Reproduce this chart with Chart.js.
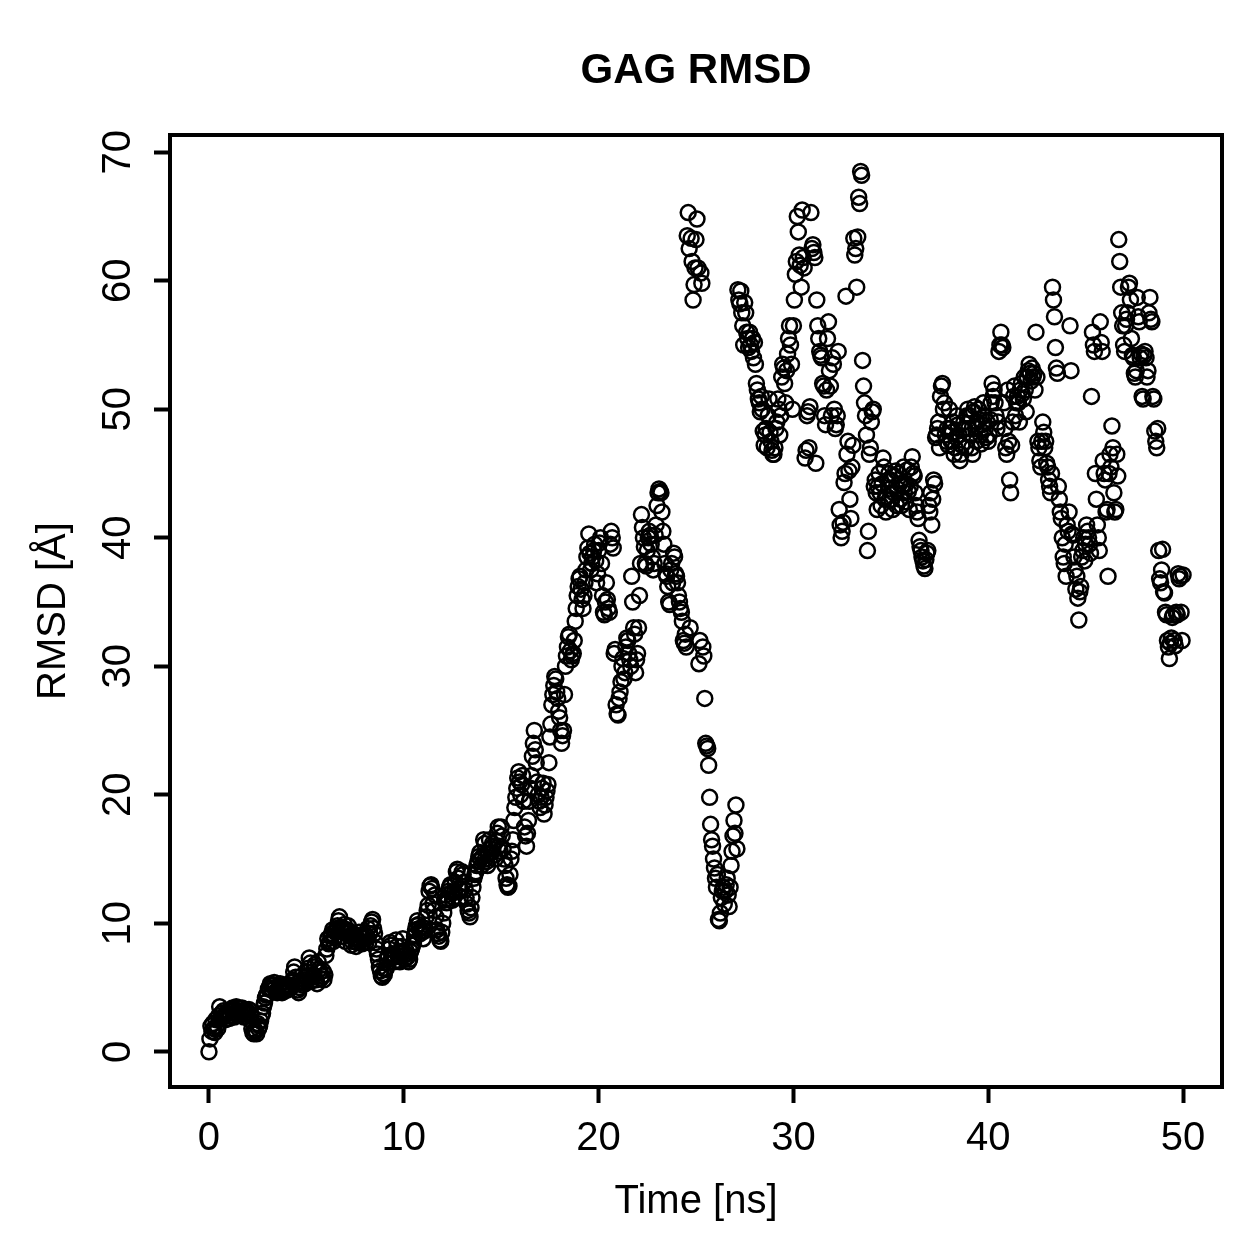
<!DOCTYPE html>
<html>
<head>
<meta charset="utf-8">
<script src="https://cdn.jsdelivr.net/npm/chart.js@4.4.1/dist/chart.umd.min.js"></script>
<style>
  html, body { margin: 0; padding: 0; background: #fff; }
  #wrap { width: 1259px; height: 1259px; }
</style>
</head>
<body>
<div id="wrap"><canvas id="mycanvas" width="1259" height="1259"></canvas></div>
<script>
// one frame every 0.05 ns
var frameStep = 0.05;

// GAG RMSD [A], one row per ns (20 frames)
var rmsd = [
  0.0, 1.0, 2.0, 1.6, 2.2, 1.8, 1.5, 2.5, 2.0, 1.8, 2.8, 3.5, 2.6, 3.0, 2.7, 3.2, 2.8, 2.5, 3.0, 2.6,
  3.2, 2.6, 2.8, 3.3, 3.4, 3.0, 2.7, 3.3, 3.5, 2.9, 3.2, 3.4, 3.1, 2.9, 3.4, 3.2, 2.7, 3.0, 3.3, 2.9,
  3.1, 3.3, 2.5, 2.9, 1.8, 1.5, 1.4, 1.7, 1.6, 1.4, 2.2, 1.8, 2.0, 2.4, 2.8, 3.0, 3.5, 3.8, 4.2, 4.4,
  4.5, 4.9, 5.0, 5.3, 5.2, 4.8, 5.2, 5.4, 5.0, 4.7, 4.6, 4.9, 5.1, 5.3, 4.8, 4.6, 5.0, 4.7, 5.2, 4.9,
  4.8, 5.0, 5.2, 4.9, 5.0, 5.4, 5.6, 6.2, 6.6, 5.8, 5.3, 4.8, 4.6, 5.0, 5.5, 5.9, 5.2, 5.4, 5.6, 5.3,
  5.8, 6.2, 6.5, 7.3, 6.9, 5.5, 5.8, 6.0, 6.6, 6.8, 5.6, 5.3, 7.0, 6.4, 6.2, 5.7, 5.9, 6.3, 5.6, 6.0,
  7.5, 8.0, 8.8, 8.4, 8.5, 9.0, 9.2, 9.5, 8.6, 8.9, 9.3, 9.6, 9.8, 10.2, 10.5, 9.7, 9.4, 9.0, 9.6, 9.9,
  8.6, 9.2, 9.5, 9.8, 9.4, 9.0, 8.3, 8.6, 9.2, 8.9, 8.8, 8.2, 8.5, 8.7, 9.3, 9.0, 8.6, 8.4, 8.9, 9.1,
  8.8, 8.5, 9.0, 9.6, 8.5, 9.2, 9.8, 10.1, 10.3, 9.6, 9.2, 8.5, 8.0, 7.6, 7.2, 6.6, 6.3, 5.9, 5.8, 6.1,
  6.0, 6.4, 6.5, 7.2, 7.5, 8.0, 8.5, 8.3, 7.3, 7.6, 7.0, 7.4, 8.7, 8.2, 7.5, 7.1, 7.0, 7.8, 8.2, 8.8,
  7.5, 7.2, 7.9, 7.6, 7.4, 7.0, 7.2, 7.8, 8.0, 8.3, 8.5, 9.0, 9.5, 9.8, 10.2, 9.9, 9.6, 9.2, 9.4, 9.7,
  8.8, 9.4, 9.6, 10.5, 11.0, 11.4, 12.5, 12.9, 13.0, 12.7, 11.5, 11.0, 12.2, 10.5, 9.5, 9.2, 9.0, 8.7, 8.6, 9.3,
  10.0, 10.8, 11.8, 12.2, 11.6, 11.9, 12.5, 12.8, 13.0, 12.4, 11.8, 12.0, 12.4, 13.2, 14.0, 14.2, 13.5, 12.7, 12.0, 12.6,
  14.0, 13.8, 13.2, 12.6, 12.0, 11.5, 11.0, 10.8, 10.5, 11.2, 12.0, 12.8, 13.5, 13.8, 14.0, 14.5, 14.8, 15.2, 15.5, 15.0,
  14.5, 15.2, 16.5, 16.2, 15.0, 14.8, 14.5, 15.4, 16.5, 15.8, 15.5, 16.2, 16.0, 15.3, 15.0, 16.4, 17.0, 17.5, 16.0, 15.6,
  17.5, 16.8, 15.8, 15.0, 14.5, 13.5, 13.0, 12.8, 12.9, 13.8, 15.0, 15.6, 16.5, 18.0, 19.0, 19.8, 20.5, 21.3, 21.8, 21.0,
  20.0, 20.8, 21.5, 19.5, 17.5, 16.8, 16.0, 17.0, 18.0, 19.5, 20.5, 21.5, 23.0, 24.0, 25.0, 23.5, 22.5, 21.0, 20.0, 19.5,
  19.0, 19.8, 20.5, 20.9, 18.5, 19.2, 19.8, 20.3, 20.8, 22.5, 24.5, 25.5, 27.0, 27.8, 28.5, 29.2, 29.0, 28.0, 27.5, 26.5,
  26.0, 25.0, 24.0, 24.6, 25.0, 27.8, 30.0, 30.8, 31.5, 32.3, 32.5, 31.2, 30.5, 30.8, 31.0, 32.0, 33.5, 34.5, 35.5, 36.2,
  36.8, 37.0, 36.0, 35.2, 34.5, 35.5, 36.5, 37.5, 38.5, 39.2, 40.3, 38.8, 37.5, 38.0, 38.5, 39.0, 39.5, 38.2, 36.5, 37.2,
  39.0, 39.6, 40.0, 38.0, 35.5, 34.2, 34.0, 35.0, 36.5, 35.2, 34.5, 34.2, 39.5, 40.5, 40.0, 39.2, 31.0, 31.3, 27.0, 26.3,
  26.2, 27.5, 28.0, 28.8, 30.0, 30.6, 29.0, 29.5, 31.5, 32.2, 32.0, 31.0, 30.5, 30.0, 37.0, 35.0, 33.0, 32.5, 29.5, 30.5,
  31.0, 33.0, 35.5, 38.0, 41.8, 40.8, 40.0, 39.3, 38.0, 37.8, 39.0, 40.0, 40.5, 40.2, 39.5, 38.5, 37.5, 38.0, 40.2, 41.0,
  42.5, 43.5, 43.8, 43.6, 43.5, 42.0, 40.5, 39.5, 38.0, 37.2, 37.0, 36.2, 35.0, 34.8, 37.5, 38.0, 36.5, 38.8, 38.5, 37.2,
  37.0, 36.5, 35.5, 35.0, 34.5, 34.2, 33.5, 32.0, 31.8, 32.5, 31.5, 63.5, 65.3, 62.5, 33.0, 63.3, 61.5, 58.5, 59.7, 61.0,
  63.2, 64.8, 61.0, 30.2, 32.0, 60.6, 59.8, 31.5, 30.8, 27.5, 24.0, 23.8, 23.6, 22.3, 19.8, 17.7, 16.5, 16.0, 15.0, 14.3,
  13.5, 12.8, 13.8, 10.3, 10.2, 10.8, 12.0, 12.5, 12.8, 11.5, 12.5, 13.0, 13.5, 12.2, 11.3, 12.8, 14.5, 15.6, 16.8, 18.0,
  17.0, 19.2, 15.8, 59.3, 58.5, 58.2, 59.2, 57.5, 56.5, 55.0, 58.3, 57.5, 56.0, 55.5, 54.8, 56.0, 55.0, 54.5, 55.5, 54.0,
  55.2, 53.5, 52.0, 51.5, 50.8, 50.5, 49.8, 51.0, 50.0, 48.3, 47.2, 48.0, 48.5, 47.0, 49.5, 50.8, 48.2, 47.5, 46.8, 46.5,
  46.5, 47.0, 48.5, 49.0, 50.8, 50.0, 48.0, 49.5, 52.5, 53.5, 53.2, 52.0, 50.5, 53.0, 54.3, 55.5, 56.5, 55.0, 53.5, 50.0,
  56.5, 58.5, 60.5, 61.5, 65.0, 63.8, 62.0, 61.2, 59.5, 65.5, 61.8, 61.0, 46.2, 46.8, 49.5, 49.8, 47.0, 50.2, 65.3, 62.5,
  62.8, 62.2, 61.8, 45.8, 58.5, 56.5, 55.5, 54.5, 54.2, 54.0, 52.0, 51.8, 49.5, 48.8, 51.5, 55.5, 56.8, 53.0, 51.8, 49.5,
  54.0, 53.5, 50.0, 48.5, 48.8, 49.5, 54.5, 42.2, 41.0, 40.0, 40.5, 41.2, 44.3, 45.0, 58.8, 46.5, 47.5, 45.2, 43.0, 41.5,
  45.5, 47.2, 63.3, 62.0, 62.5, 59.5, 63.4, 66.5, 66.0, 68.5, 68.2, 53.8, 51.8, 50.5, 49.5, 48.0, 39.0, 40.5, 46.5, 47.0,
  49.0, 49.8, 50.0, 44.0, 44.5, 43.5, 42.2, 44.0, 45.0, 43.5, 42.5, 44.2, 46.2, 45.5, 43.0, 42.0, 43.2, 44.5, 45.0, 43.8,
  44.5, 43.0, 42.2, 43.5, 44.8, 45.2, 42.5, 43.8, 45.0, 44.2, 43.0, 42.5, 44.0, 45.5, 43.5, 42.8, 44.2, 45.3, 43.6, 42.2,
  44.0, 45.5, 46.3, 45.0, 44.8, 43.5, 42.5, 42.0, 41.5, 39.8, 39.3, 39.0, 38.5, 38.2, 37.8, 37.6, 38.3, 38.8, 39.0, 42.5,
  42.0, 43.5, 41.0, 43.0, 44.5, 44.2, 47.8, 48.0, 48.5, 49.0, 47.0, 51.0, 51.8, 52.0, 50.0, 50.5, 48.0, 47.5, 48.5, 47.2,
  50.0, 48.5, 47.5, 48.2, 49.0, 46.5, 47.0, 47.8, 49.5, 48.8, 48.0, 46.0, 46.5, 47.2, 48.4, 49.0, 48.5, 47.0, 49.5, 50.0,
  48.5, 49.5, 48.0, 47.0, 46.5, 49.8, 50.2, 48.5, 47.5, 49.0, 50.0, 49.2, 48.0, 47.3, 48.8, 50.5, 49.5, 48.5, 47.8, 49.0,
  47.5, 48.0, 49.2, 50.5, 52.0, 51.0, 51.5, 50.5, 49.5, 48.5, 49.0, 54.5, 55.0, 56.0, 55.0, 54.8, 50.5, 48.5, 47.0, 46.5,
  51.5, 47.5, 44.5, 43.5, 47.2, 49.0, 51.0, 51.8, 49.5, 50.5, 51.0, 50.5, 49.0, 51.5, 52.0, 51.2, 50.8, 52.5, 51.5, 49.8,
  52.5, 53.0, 53.5, 52.8, 52.2, 53.2, 52.5, 52.8, 51.5, 56.0, 52.5, 47.5, 47.0, 46.0, 45.5, 47.5, 49.0, 48.2, 47.0, 47.5,
  45.8, 45.5, 44.5, 44.0, 43.5, 45.0, 59.5, 58.5, 57.2, 54.8, 53.2, 52.8, 44.0, 43.0, 42.0, 41.5, 40.0, 38.5, 38.0, 39.5,
  37.0, 41.0, 40.5, 42.0, 56.5, 53.0, 40.3, 40.2, 38.5, 37.5, 36.0, 37.0, 35.3, 33.6, 35.8, 36.2, 38.5, 39.0, 40.0, 38.2,
  39.5, 41.0, 40.5, 40.0, 39.5, 38.8, 51.0, 56.0, 55.0, 54.5, 45.0, 43.0, 41.0, 40.0, 39.0, 56.8, 55.2, 54.5, 46.0, 45.0,
  44.5, 42.0, 42.2, 37.0, 45.0, 46.5, 45.5, 48.7, 47.0, 43.5, 42.0, 42.2, 46.5, 44.8, 63.2, 61.5, 59.5, 57.5, 56.5, 55.0,
  54.5, 56.5, 57.0, 57.5, 59.5, 59.8, 58.5, 55.5, 54.2, 54.0, 52.8, 52.5, 53.0, 58.7, 57.2, 56.8, 54.0, 54.3, 51.0, 50.8,
  54.2, 54.5, 54.0, 52.5, 53.0, 57.5, 58.7, 57.0, 56.8, 51.0, 50.8, 48.3, 47.5, 47.0, 48.5, 39.0, 36.8, 36.5, 37.5, 39.1,
  35.8, 35.7, 34.2, 34.0, 32.0, 31.5, 30.6, 31.8, 32.2, 33.8, 34.0, 32.0, 31.6, 34.2, 34.0, 37.2, 36.8, 37.0, 34.2, 32.0,
  37.1
];

var xTicks = [0, 10, 20, 30, 40, 50];
var yTicks = [0, 10, 20, 30, 40, 50, 60, 70];

var points = [];
for (var i = 0; i < rmsd.length; i++) {
  points.push({ x: +(i * frameStep).toFixed(2), y: rmsd[i] });
}

var FONT = '"Liberation Sans", Arial, Helvetica, sans-serif';

// R-style box, tick labels and titles
var rText = {
  id: 'rText',
  afterDraw: function(chart) {
    var ctx = chart.ctx;
    var a = chart.chartArea;
    var xs = chart.scales.x, ys = chart.scales.y;
    ctx.save();
    ctx.strokeStyle = '#000';
    ctx.lineWidth = 4;
    ctx.strokeRect(a.left, a.top, a.right - a.left, a.bottom - a.top);

    ctx.fillStyle = '#000';
    ctx.font = '40px ' + FONT;
    ctx.textAlign = 'center';
    ctx.textBaseline = 'alphabetic';
    xTicks.forEach(function(v) {
      ctx.fillText(String(v), xs.getPixelForValue(v), 1150);
    });
    yTicks.forEach(function(v) {
      ctx.save();
      ctx.translate(130, ys.getPixelForValue(v));
      ctx.rotate(-Math.PI / 2);
      ctx.fillText(String(v), 0, 0);
      ctx.restore();
    });

    ctx.fillText('Time [ns]', (a.left + a.right) / 2, 1213);
    ctx.save();
    ctx.translate(65, (a.top + a.bottom) / 2);
    ctx.rotate(-Math.PI / 2);
    ctx.fillText('RMSD [\u00C5]', 0, 0);
    ctx.restore();

    ctx.font = 'bold 42px ' + FONT;
    ctx.fillText('GAG RMSD', (a.left + a.right) / 2, 83);
    ctx.restore();
  }
};

var ctx = document.getElementById('mycanvas');

var rmsdChart = new Chart(ctx, {
  type: 'scatter',
  data: {
    datasets: [{
      label: 'GAG RMSD',
      data: points,
      pointStyle: 'circle',
      pointRadius: 7.5,
      pointBorderWidth: 2.5,
      pointBackgroundColor: 'rgba(0,0,0,0)',
      pointBorderColor: '#000',
      backgroundColor: 'rgba(0,0,0,0)',
      borderColor: '#000'
    }]
  },
  options: {
    responsive: false,
    animation: false,
    events: [],
    layout: { padding: { top: 135, right: 37, left: 0, bottom: 0 } },
    plugins: {
      legend: { display: false },
      tooltip: { enabled: false },
      title: { display: false }
    },
    scales: {
      x: {
        type: 'linear',
        min: -2,
        max: 52,
        afterBuildTicks: function(scale) {
          scale.ticks = xTicks.map(function(v) { return { value: v }; });
        },
        afterFit: function(scale) { scale.height = 172; },
        ticks: { display: false },
        grid: { drawOnChartArea: false, drawTicks: true, tickLength: 16, tickColor: '#000', tickWidth: 4 },
        border: { display: false }
      },
      y: {
        type: 'linear',
        min: -2.74,
        max: 71.34,
        afterBuildTicks: function(scale) {
          scale.ticks = yTicks.map(function(v) { return { value: v }; });
        },
        afterFit: function(scale) { scale.width = 170; },
        ticks: { display: false },
        grid: { drawOnChartArea: false, drawTicks: true, tickLength: 16, tickColor: '#000', tickWidth: 4 },
        border: { display: false }
      }
    }
  },
  plugins: [rText]
});
</script>
</body>
</html>
